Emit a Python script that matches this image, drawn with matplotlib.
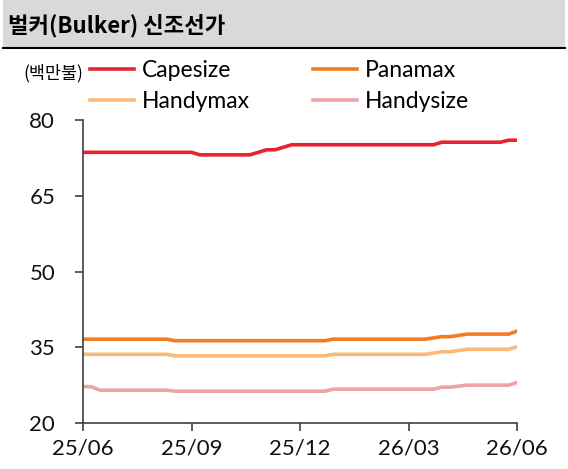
import matplotlib.pyplot as plt
from matplotlib.lines import Line2D

plt.rcParams['font.family'] = ['Lato', 'Noto Sans CJK KR', 'DejaVu Sans']

# weekly newbuilding prices, 25/06 -> 26/06 (million USD)
capesize = [73.6] * 14 + [73.1] * 7 + [73.6, 74.1, 74.1, 74.6] + [75.1] * 18 + [75.6] * 8 + [76.0, 76.0]
panamax = [36.6] * 11 + [36.3] * 19 + [36.6] * 12 + [36.85, 37.1, 37.1, 37.35] + [37.6] * 6 + [38.2]
handymax = [33.6] * 11 + [33.3] * 19 + [33.6] * 12 + [33.85, 34.1, 34.1, 34.35] + [34.6] * 6 + [35.1]
handysize = [27.2, 27.2] + [26.5] * 9 + [26.3] * 19 + [26.7] * 13 + [27.1, 27.1, 27.3] + [27.5] * 6 + [28.0]

tick_pos = [0, 13, 26, 39, 52]
tick_labels = ['25/06', '25/09', '25/12', '26/03', '26/06']
y_ticks = [20, 35, 50, 65, 80]

series = [
    ('Capesize', capesize, '#E8232F'),
    ('Panamax', panamax, '#F47B20'),
    ('Handymax', handymax, '#FDB97C'),
    ('Handysize', handysize, '#EFA3A5'),
]

fig = plt.figure(figsize=(5.68, 4.69), dpi=100)

# title bar
fig.patches.append(plt.Rectangle((0.005, 1 - 47 / 469), 0.99, 47 / 469, transform=fig.transFigure,
                                 facecolor='#D9D9D9', edgecolor='none'))
fig.add_artist(Line2D([0.005, 0.995], [1 - 48 / 469] * 2, color='black', lw=1.5))
fig.text(0.014, 1 - 26 / 469, '벌커(Bulker) 신조선가', fontsize=16, fontweight='bold',
         family=['Noto Sans CJK KR'], va='center', ha='left')

ax = fig.add_axes([83 / 568, 46 / 469, 434 / 568, 303 / 469])
handles = []
for name, vals, col in series:
    h, = ax.plot(range(len(vals)), vals, color=col, lw=2.6, label=name, solid_joinstyle='round')
    handles.append(h)

ax.set_xlim(0, 52)
ax.set_ylim(20, 80)
ax.set_yticks(y_ticks)
ax.set_xticks(tick_pos)
ax.set_xticklabels(tick_labels)
for s in ['top', 'right']:
    ax.spines[s].set_visible(False)
for s in ['left', 'bottom']:
    ax.spines[s].set_color('#404040')
    ax.spines[s].set_linewidth(1.2)
ax.tick_params(axis='both', colors='#404040', labelcolor='#111111', labelsize=16, length=6, width=1.2, direction='out')
ax.tick_params(axis='y', pad=14)
ax.tick_params(axis='x', pad=5)

fig.text(0.042, 1 - 73 / 469, '(백만불)', fontsize=12.5, family=['Noto Sans CJK KR'], va='center', ha='left')
order = [0, 2, 1, 3]
leg = fig.legend([handles[i] for i in order], [series[i][0] for i in order], ncol=2,
                 loc='center left', bbox_to_anchor=(79 / 568, 1 - 86 / 469), frameon=False,
                 prop={'size': 16.5}, handlelength=1.9, handletextpad=0.35,
                 columnspacing=2.75, labelspacing=0.4, borderpad=0)

fig.savefig('out.png', dpi=100)
